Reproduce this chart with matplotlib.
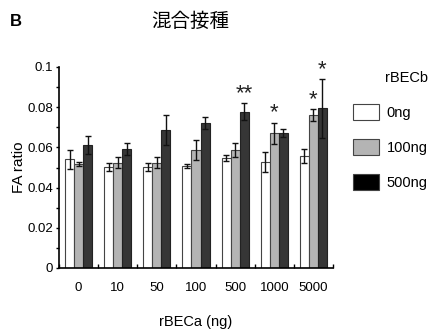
import matplotlib
matplotlib.use("Agg")
import matplotlib.pyplot as plt
from matplotlib.patches import Patch
import numpy as np

categories = ["0", "10", "50", "100", "500", "1000", "5000"]
series_names = ["0ng", "100ng", "500ng"]
vals_0 = [0.0541, 0.0504, 0.0504, 0.0507, 0.0546, 0.0529, 0.0557]
vals_100 = [0.0516, 0.0524, 0.0524, 0.0587, 0.0587, 0.0670, 0.0761]
vals_500 = [0.0612, 0.0592, 0.0687, 0.0720, 0.0778, 0.0670, 0.0794]
err_0 = [0.0046, 0.0020, 0.0020, 0.0010, 0.0016, 0.0050, 0.0037]
err_100 = [0.0010, 0.0026, 0.0026, 0.0050, 0.0033, 0.0053, 0.0029]
err_500 = [0.0045, 0.0028, 0.0073, 0.0030, 0.0042, 0.0020, 0.0145]
# significance marks: (category index, series index, text)
stars = [(4, 2, "**"), (5, 1, "*"), (6, 1, "*"), (6, 2, "*")]

plt.rcParams["font.family"] = ["Liberation Sans", "DejaVu Sans"]

fig = plt.figure(figsize=(4.33, 3.33), dpi=100)
ax = fig.add_axes([59/433, 1-268/333, 274/433, 201/333])

fills = ["white", "#b4b4b4", "#363636"]
edges = ["#444444", "#444444", "#222222"]
values = [vals_0, vals_100, vals_500]
errs = [err_0, err_100, err_500]
x = np.arange(len(categories))
w = 0.23
for i in range(3):
    pos = x + (i - 1) * w
    ax.bar(pos, values[i], width=w, color=fills[i], edgecolor=edges[i], linewidth=0.8,
           yerr=errs[i], error_kw=dict(ecolor="#111111", elinewidth=1.0, capsize=2.5, capthick=1.0))

for ci, si, txt in stars:
    top = values[si][ci] + errs[si][ci]
    ax.text(ci + (si - 1) * w, top - 0.0005, txt, ha="center", va="bottom",
            fontsize=16, color="#222222")

ax.set_xlim(-0.5, len(categories) - 0.5)
ax.set_ylim(0, 0.1)
ax.set_yticks([0, 0.02, 0.04, 0.06, 0.08, 0.1])
ax.set_yticklabels(["0", "0.02", "0.04", "0.06", "0.08", "0.1"])
ax.set_yticks(np.arange(0.01, 0.1, 0.02), minor=True)
ax.set_xticks(x)
ax.set_xticklabels(categories)
ax.set_xticks(np.arange(-0.5, len(categories)), minor=True)
fs = 9.5
ax.tick_params(axis="x", which="major", length=0, pad=10, labelsize=fs)
ax.tick_params(axis="x", which="minor", direction="in", length=3, width=1)
ax.tick_params(axis="y", which="both", direction="out", length=2.5, width=1, pad=2, labelsize=fs)
for s in ["top", "right"]:
    ax.spines[s].set_visible(False)
for s in ["left", "bottom"]:
    ax.spines[s].set_linewidth(1.2)
ax.set_ylabel("FA ratio", fontsize=11, labelpad=1)
ax.set_xlabel("rBECa (ng)", fontsize=10.5, labelpad=15)

handles = [Patch(facecolor=c, edgecolor="#444444", linewidth=0.8) for c in ["white", "#b4b4b4", "black"]]
leg = fig.legend(handles, series_names, title="rBECb", loc="upper left",
                 bbox_to_anchor=(353/433, 1-71/333), frameon=False,
                 fontsize=10.5, title_fontsize=10.5,
                 handlelength=1.8, handleheight=1.3, labelspacing=1.3, handletextpad=0.5,
                 borderaxespad=0, borderpad=0)
leg._legend_box.align = "right"
leg._legend_box.sep = 14

fig.text(10/433, 1-22/333, "B", fontsize=12, fontweight="bold", va="center", ha="left")
fig.text(190/433, 1-21/333, "混合接種", fontsize=14, va="center", ha="center",
         family=["Noto Sans CJK JP", "DejaVu Sans"])

fig.savefig("out.png", dpi=100)
